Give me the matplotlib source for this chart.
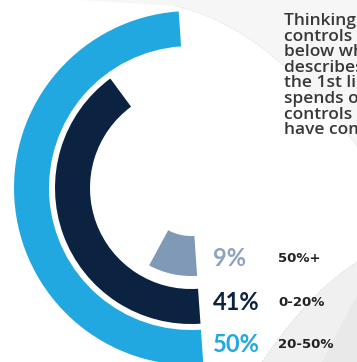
import numpy as np
import matplotlib
matplotlib.use('Agg')
import matplotlib.pyplot as plt
from matplotlib.patches import Wedge, Polygon

# data
shares = [50, 41, 9]
pct_labels = ['50%', '41%', '9%']
ranges = ['20-50%', '0-20%', '50%+']
colors = ['#22A8E0', '#0B2340', '#7F99B7']
label_colors = ['#22A8E0', '#0B2340', '#8EA3BD']
question = ['Thinking about', 'controls testing', 'below which', 'describes the',
            'the 1st line', 'spends on', 'controls that', 'have compensating']

# ring geometry (pixels, y down)
cx, cy = 191, 188
radii = [177, 136, 88]
widths = [35, 35, 40]
label_y = [345, 303, 258]
start = 86  # just right of the bottom, y axis is inverted

fig = plt.figure(figsize=(3.57, 3.62), dpi=100)
ax = fig.add_axes([0, 0, 1, 1])
ax.set_xlim(0, 357)
ax.set_ylim(362, 0)
ax.axis('off')

# faint page background
t = np.linspace(0, 1, 30)
top_curve = np.column_stack([175 + 182 * t, 6 + 40 * t + 100 * t ** 2])
ax.add_patch(Polygon(np.vstack([[[80, 0]], top_curve, [[357, 0]]]), color='#F6F6F6', lw=0, zorder=0))
ax.plot(top_curve[:, 0], top_curve[:, 1], color='#E2E2E2', lw=0.5, ls='--', zorder=0)
bot_curve = np.column_stack([357 - 95 * t, 262 + 60 * t + 40 * t ** 2])
ax.add_patch(Polygon(np.vstack([bot_curve, [[357, 362]]]), color='#F0F0F0', lw=0, zorder=0))
ax.plot(bot_curve[:, 0], bot_curve[:, 1], color='#DDDDDD', lw=0.5, ls='--', zorder=0)
ax.add_patch(Polygon([[357, 295], [322, 362], [357, 362]], color='#E9E9E9', lw=0, zorder=0))

for i in range(len(shares)):
    span = shares[i] / 100 * 360
    ax.add_patch(Wedge((cx, cy), radii[i], start, start + span, width=widths[i],
                       color=colors[i], lw=0, zorder=2))
    ax.text(213, label_y[i], pct_labels[i], color=label_colors[i], fontsize=17,
            fontweight='bold', family='Lato', ha='left', va='center', zorder=3)
    ax.text(278, label_y[i], ranges[i], color='#222222', fontsize=9.5,
            fontweight='bold', family='DejaVu Sans', ha='left', va='center', zorder=3)

for j in range(len(question)):
    ax.text(284, 25 + 15.6 * j, question[j], color='#383838', fontsize=12.5,
            fontweight=600, family='Open Sans', ha='left', va='baseline', zorder=3)

fig.savefig('out.png', dpi=100)
